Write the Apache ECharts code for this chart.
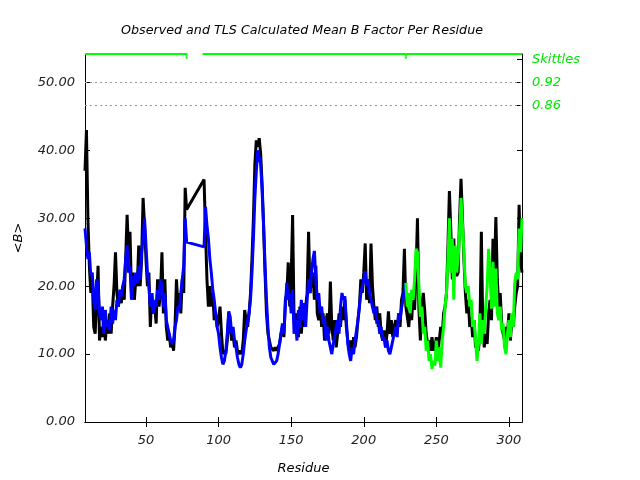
<!DOCTYPE html>
<html><head><meta charset="utf-8">
<script src="https://cdn.jsdelivr.net/npm/echarts@6/dist/echarts.min.js"></script>
<style>html,body{margin:0;padding:0;background:#fff}#c{width:640px;height:480px}</style>
</head><body><div id="c"></div>
<script>
// Observed mean B per residue (starts at residue 8; nulls = residues with no data)
const obsStart = 8;
const observed = [
  37, 43, 30, 23, 19, 21, 14, 13, 18, 23,
  12, 14, 12.5, 16, 12, 15, 13, 16, 13, 17,
  20, 25, 19, 17, 19, 17.5, 20, 18, 24, 30.5,
  25, 28, 19, 22, 18, 21, 20, 26, 20, 24,
  33, 29, 24, 20, 22, 14, 19, 16, 17, 14.5,
  21, 17, 19, 25, 16, 21, 14, 12, 13, 11,
  12, 10.5, 14, 21, 17, 19, 16, 21, 19, 34.5,
  31.3,
  null, null, null, null, null, null, null, null, null, null, null,
  35.7, 28, 21, 17, 20, 17, 19, 15, 16, 14,
  15, 17, 13, 10, 10.5, 10, 12, 16, 14, 12,
  13, 11, 12, 10.5, 10, 10.5, 10, 12, 16.5, 15,
  14, 16, 19, 24, 30, 38, 41.5, 40.5, 41.8, 39.5,
  35, 29, 22, 16, 13, 12, 11, 11, 10.5, 11,
  10.5, 10.5, 11.5, 13, 14, 12.5, 18, 19, 23.5, 17,
  21, 30.5, 15, 13, 16, 12.5, 17, 13, 16, 14,
  17, 19, 28, 19, 21, 22, 18, 23, 16, 15,
  17, 14, 16, 12, 15, 16, 13, 20.7, 14, 12,
  15, 11, 13, 16, 14, 17, 15, 18, 14, 12,
  10.5, 12, 10, 12.5, 11, 12.5, 15, 17, 21, 19,
  22, 26.3, 18, 21, 17.5, 26.3, 20, 17, 15, 17,
  14, 16, 13, 12, 13.5, 11, 13, 16.3, 13, 15,
  12.5, 14, 15, 13, 16, 14, 18, 19, 25.5, 17,
  15.5, 14, 17, 15, 19, 16.5, 22, 30, 16.7, 12,
  17, 19, 16.4, 13, 11.5, 12, 10.5, 12.5, 10.5, 11,
  12.5, 10.5, 12, 14, 12.5, 16, 17, 19, 26, 34,
  28, 21, 27, 22, 21.5, 22, 30, 35.8, 30, 24,
  19, 16, 18, 14, 15.5, 12.5, 15, 11, 12, 10.5,
  13, 28, 14, 11, 13, 11.5, 16, 18, 15, 27,
  22, 30.2, 21, 17, 19, 14.5, 13, 12, 14, 13,
  16, 12, 15, 14, 17, 19, 20, 32, 24, 22
];
// TLS calculated mean B (starts at residue 8)
const tlsStart = 8;
const tlsCalc = [
  28.5, 26, 24, 25, 21.5, 22, 18, 16.5, 21, 20,
  16, 15, 17, 13, 16.5, 14, 15, 13.5, 17, 14.5,
  16.5, 15, 18, 17, 19.5, 18.5, 20, 21, 24, 26,
  22, 23, 18, 21.5, 20, 22, 20.5, 23, 21, 25,
  27, 30, 26, 22, 20, 17, 19, 16, 18, 17,
  19.5, 18, 21, 20, 17, 19, 15, 14, 13, 12,
  11.5, 12, 14, 15, 17, 16.5, 19, 21, 23, 30,
  26.5,
  null, null, null, null, null, null, null, null, null, null, null,
  25.8, 31.7, 29, 27, 24, 22, 19.5, 18, 16, 14,
  13, 11, 9.5, 8.5, 9, 10.5, 13, 16.3, 15.5, 13,
  14, 12, 11, 9.5, 8.5, 8, 8.5, 10, 12, 13.5,
  15, 16, 18, 22, 27, 33, 37, 40, 39, 38,
  34, 29, 23, 18, 14, 11, 9.5, 9, 8.5, 8.3,
  9, 10, 11.5, 13, 14.5, 13, 17, 20.5, 18, 19,
  16, 19.5, 13, 15, 12, 16.5, 14, 18, 15, 17.5,
  14, 18, 21, 19, 22, 24, 25.2, 21, 18, 19,
  16, 17, 14.5, 15.5, 12, 14, 12, 11, 10, 11.5,
  12.5, 14, 15, 13, 17, 19, 18, 18.5, 15, 11.5,
  10, 9, 11, 10, 12, 13.5, 15, 17, 19, 20,
  21, 22.2, 20, 21, 19, 18, 17, 16, 17, 14.5,
  15, 13, 14, 12, 12.5, 11, 12, 10.5, 10, 11,
  12, 13, 14, 12.5, 16, 15, 16.7, 18, 19.5, 20.5
];
// Skittles segment (starts at residue 229)
const skStart = 229;
const skittles = [
  20.5, 17, 19, 16, 19.5, 18, 21, 25.5, 25, 20,
  15.5, 17, 13, 14, 10.5, 12, 9, 10, 7.8, 9,
  8.3, 12, 9, 11, 8, 12, 14, 17, 19, 24,
  30, 22, 27, 18, 26, 22, 24, 28, 33, 29,
  25, 20, 19, 20, 17, 18, 14, 15, 12, 9,
  11.5, 16, 11.5, 15, 13, 17, 20, 25.5, 22, 16.7,
  23.6, 17, 22.6, 16, 15, 17, 13.5, 14.5, 11, 10,
  13, 15, 12.5, 16, 14, 20.5, 22, 21, 28.5, 25,
  30
];
const xTicks = [50, 100, 150, 200, 250, 300];
const yTicks = [0, 10, 20, 30, 40, 50];
const rightTickValues = [46.6, 50.0, 53.4];
const rightTickLabels = ['0.86', '0.92', 'Skittles'];
const refLines = [46.6, 50.0];
const segments = [[8, 78], [89, 229], [229, 309]];
const segmentEnds = [78, 229];
const xMin = 8, xMax = 309, yMin = 0, yMax = 54.2;

const FONT = 'DejaVu Sans';
const GREEN = '#00ff00';
const toPairs = (start, arr) => arr.map((v, i) => [start + i, v]);

const chart = echarts.init(document.getElementById('c'), null, {renderer: 'canvas'});
const axisLineStyle = {color: '#000', width: 1};
const labelStyle = {color: '#222', fontSize: 13, fontStyle: 'italic', fontFamily: FONT};

const series = [
  {
    type: 'line', name: 'Observed', data: toPairs(obsStart, observed),
    showSymbol: false, connectNulls: true, z: 3,
    lineStyle: {color: '#000', width: 3}, itemStyle: {color: '#000'},
    markLine: {
      silent: true, symbol: 'none', label: {show: false},
      lineStyle: {color: '#999', type: [2, 3], width: 1},
      data: refLines.map(v => ({yAxis: v}))
    }
  },
  {
    type: 'line', name: 'TLS', data: toPairs(tlsStart, tlsCalc),
    showSymbol: false, connectNulls: true, z: 4,
    lineStyle: {color: '#0000ff', width: 3}, itemStyle: {color: '#0000ff'}
  },
  {
    type: 'line', name: 'Skittles', data: toPairs(skStart, skittles),
    showSymbol: false, z: 5,
    lineStyle: {color: GREEN, width: 3}, itemStyle: {color: GREEN}
  }
];
segments.forEach(s => {
  series.push({
    type: 'line', data: [[s[0], yMax], [s[1], yMax]], showSymbol: false, clip: false, z: 6,
    lineStyle: {color: GREEN, width: 2}, silent: true
  });
});
series.push({
  type: 'scatter', data: segmentEnds.map(r => [r, yMax]), symbol: 'rect',
  symbolSize: [2, 6], symbolOffset: [0, 2], clip: false, z: 7,
  itemStyle: {color: GREEN}, silent: true
});

chart.setOption({
  animation: false,
  backgroundColor: '#fff',
  title: {
    text: 'Observed and TLS Calculated Mean B Factor Per Residue',
    left: 297, top: 19, textAlign: 'center',
    textStyle: {fontSize: 12.7, fontStyle: 'italic', fontWeight: 'normal', color: '#000', fontFamily: FONT}
  },
  grid: {left: 85, right: 118, top: 54, bottom: 58},
  xAxis: [
    {
      type: 'value', min: xMin, max: xMax, position: 'bottom',
      axisLine: {lineStyle: axisLineStyle},
      axisTick: {inside: true, length: 5, customValues: xTicks, lineStyle: axisLineStyle},
      axisLabel: Object.assign({customValues: xTicks, margin: 12}, labelStyle),
      splitLine: {show: false},
      name: 'Residue', nameLocation: 'middle', nameGap: 40,
      nameTextStyle: Object.assign({}, labelStyle, {color: '#000'})
    },
    {
      type: 'value', min: xMin, max: xMax, position: 'top',
      axisLine: {lineStyle: axisLineStyle},
      axisTick: {inside: true, length: 5, customValues: xTicks, lineStyle: axisLineStyle},
      axisLabel: {show: false}, splitLine: {show: false}
    }
  ],
  yAxis: [
    {
      type: 'value', min: yMin, max: yMax, position: 'left',
      axisLine: {show: true, lineStyle: axisLineStyle},
      axisTick: {inside: true, length: 5, customValues: yTicks, lineStyle: axisLineStyle},
      axisLabel: Object.assign({customValues: yTicks, margin: 10, formatter: v => Number(v).toFixed(2)}, labelStyle),
      splitLine: {show: false},
      name: '<B>', nameLocation: 'middle', nameGap: 60, nameRotate: 90,
      nameTextStyle: Object.assign({}, labelStyle, {color: '#000'})
    },
    {
      type: 'value', min: yMin, max: yMax, position: 'right',
      axisLine: {show: true, lineStyle: axisLineStyle},
      axisTick: {inside: true, length: 5, customValues: [10, 20, 30, 40].concat(rightTickValues), lineStyle: axisLineStyle},
      axisLabel: {
        customValues: rightTickValues, margin: 10, color: '#00e600', fontSize: 13,
        fontStyle: 'italic', fontFamily: FONT,
        formatter: v => {
          const i = rightTickValues.findIndex(t => Math.abs(t - v) < 1e-6);
          return i >= 0 ? rightTickLabels[i] : '';
        }
      },
      splitLine: {show: false}
    }
  ],
  series: series
});
</script>
</body></html>
